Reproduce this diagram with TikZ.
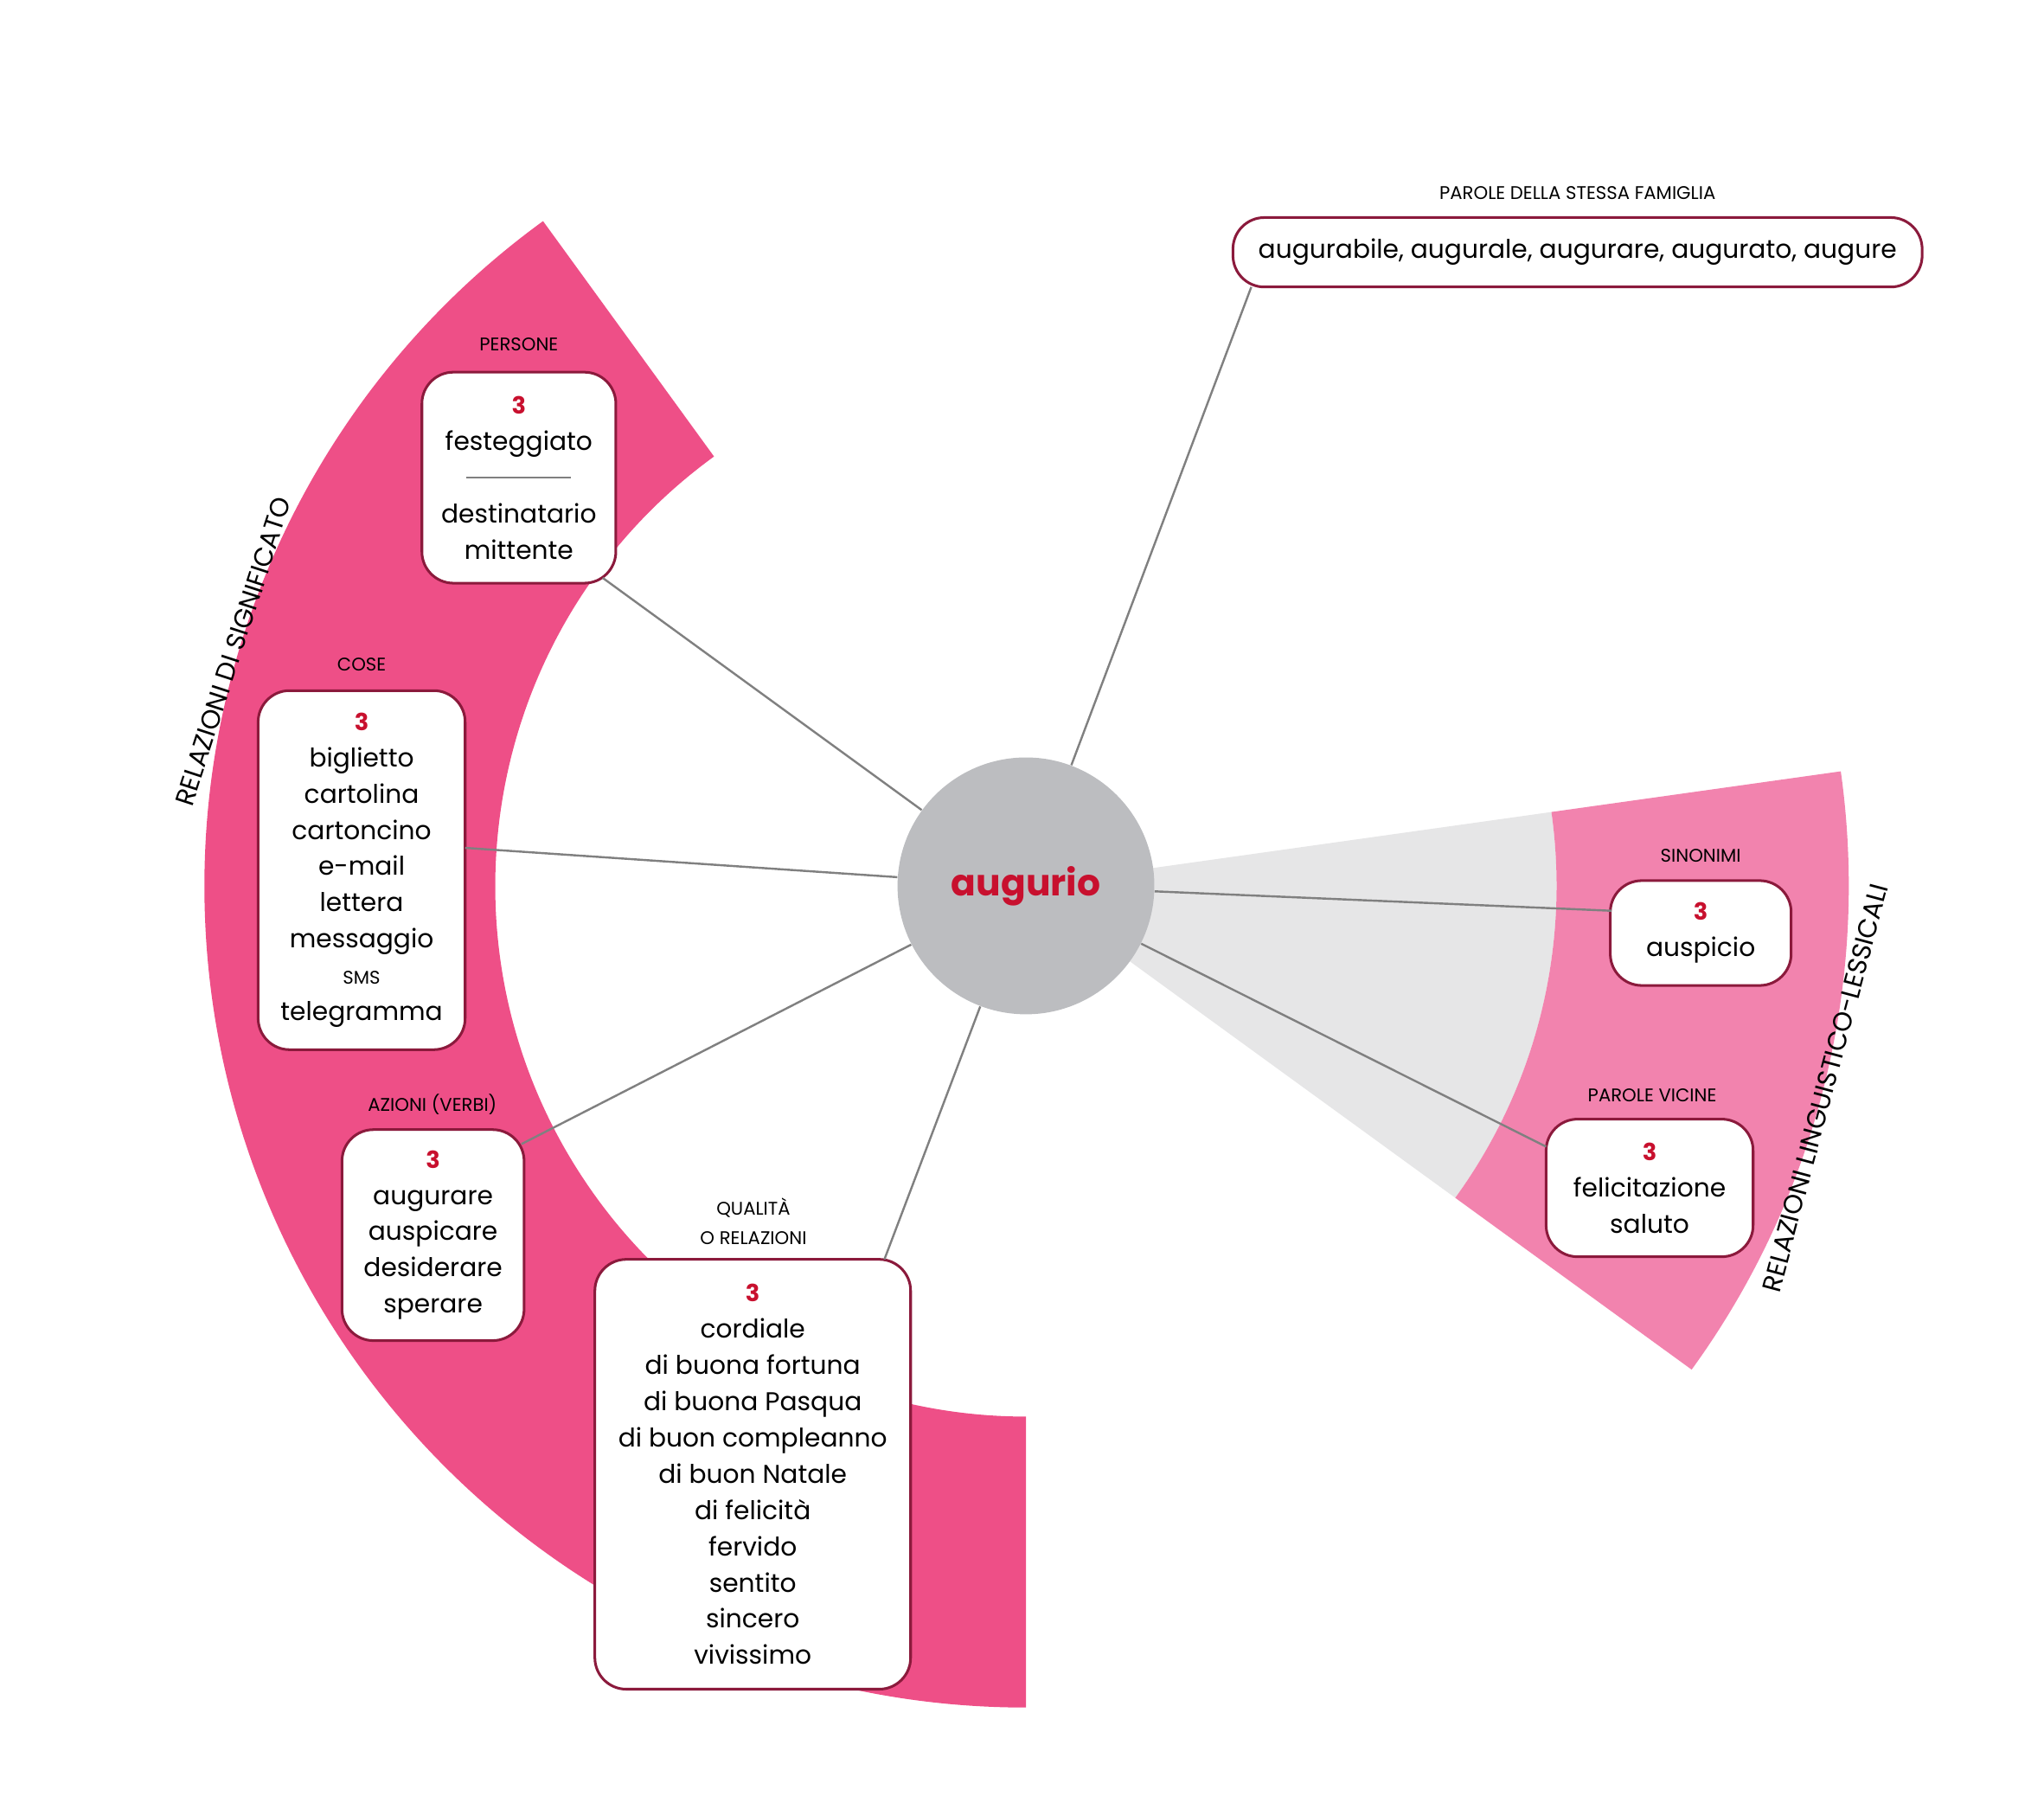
\documentclass[tikz,border=0pt]{standalone}
\usepackage{fontspec}
\setmainfont{Poppins}
\usetikzlibrary{calc}
\definecolor{pinkA}{HTML}{EE4F87}
\definecolor{pinkB}{HTML}{F283AE}
\definecolor{wedge}{HTML}{E6E6E7}
\definecolor{circ}{HTML}{BCBDC0}
\definecolor{bord}{HTML}{8B1A3C}
\definecolor{num}{HTML}{C8102E}
\definecolor{conn}{HTML}{808080}
\newcommand{\nr}{{\color{num}\bfseries\small 3}}
\begin{document}
\begin{tikzpicture}[x=0.5pt,y=-0.5pt,
  box/.style={draw=bord,line width=1pt,fill=white,rounded corners=12pt,align=center,
    font=\fontsize{9.8}{13.85}\selectfont,inner sep=0pt},
  lab/.style={font=\fontsize{7}{11}\selectfont,align=center},
  side/.style={font=\fontsize{10}{12}\selectfont},
  con/.style={draw=conn,line width=0.8pt}]
\useasboundingbox (0,0) rectangle (1560,1380);
\coordinate (C) at (783,676);
% left band
\fill[pinkA] ($(C)+(90:627)$) arc[start angle=90,end angle=234,radius=627]
  -- ($(C)+(234:405)$) arc[start angle=234,end angle=90,radius=405] -- cycle;
% right wedge and band
\fill[wedge] (C) -- ($(C)+(-8:405)$) arc[start angle=-8,end angle=36,radius=405] -- cycle;
\fill[pinkB] ($(C)+(-8:628)$) arc[start angle=-8,end angle=36,radius=628]
  -- ($(C)+(36:405)$) arc[start angle=36,end angle=-8,radius=405] -- cycle;
% center
\node[circle,fill=circ,minimum size=98pt,inner sep=0pt,font=\fontsize{14}{16}\selectfont\bfseries,text=num] (aug) at (C) {augurio};
% boxes
\node[box,minimum width=74pt,minimum height=80.5pt] (pers) at (396,364.5)
  {\nr\\festeggiato\\{\color{conn}\rule[0.3em]{40pt}{0.6pt}}\\destinatario\\mittente};
\node[lab] (lpers) at (396,263) {PERSONE};
\node[box,minimum width=79pt,minimum height=137pt] (cose) at (276,664)
  {\nr\\biglietto\\cartolina\\cartoncino\\e-mail\\lettera\\messaggio\\{\fontsize{7}{13.85}\selectfont SMS}\\telegramma};
\node[lab] (lcose) at (276,507) {COSE};
\node[box,minimum width=69.5pt,minimum height=80.5pt] (az) at (330.5,942.5)
  {\nr\\augurare\\auspicare\\desiderare\\sperare};
\node[lab] (laz) at (330,843) {AZIONI (VERBI)};
\node[box,minimum width=120.5pt,minimum height=164pt] (qual) at (574.5,1125)
  {\nr\\cordiale\\di buona fortuna\\di buona Pasqua\\di buon compleanno\\di buon Natale\\di felicità\\fervido\\sentito\\sincero\\vivissimo};
\node[lab] (lqual) at (575,932) {QUALITÀ\\O RELAZIONI};
\node[box,minimum width=263pt,minimum height=26.5pt] (fam) at (1204,192.5)
  {augurabile, augurale, augurare, augurato, augure};
\node[lab] (lfam) at (1204,147) {PAROLE DELLA STESSA FAMIGLIA};
\node[box,minimum width=69pt,minimum height=40pt] (sin) at (1298,712)
  {\nr\\auspicio};
\node[lab] (lsin) at (1298,653) {SINONIMI};
\node[box,minimum width=79pt,minimum height=52.5pt] (vic) at (1259,906.5)
  {\nr\\felicitazione\\saluto};
\node[lab] (lvic) at (1261,836) {PAROLE VICINE};
% side labels
\node[side,rotate=72] (s1) at (178,497) {RELAZIONI DI SIGNIFICATO};
\node[side,rotate=75] (s2) at (1393,830) {RELAZIONI LINGUISTICO-LESSICALI};
% connector ends
\coordinate (ep) at (460,441);
\coordinate (ec) at (355,647);
\coordinate (ea) at (398,873);
\coordinate (eq) at (675,961);
\coordinate (ef) at (955,219);
\coordinate (es) at (1230,695);
\coordinate (ev) at (1180,875);
\draw[con] (aug) -- (ep);
\draw[con] (aug) -- (ec);
\draw[con] (aug) -- (ea);
\draw[con] (aug) -- (eq);
\draw[con] (aug) -- (ef);
\draw[con] (aug) -- (es);
\draw[con] (aug) -- (ev);
\end{tikzpicture}
\end{document}
